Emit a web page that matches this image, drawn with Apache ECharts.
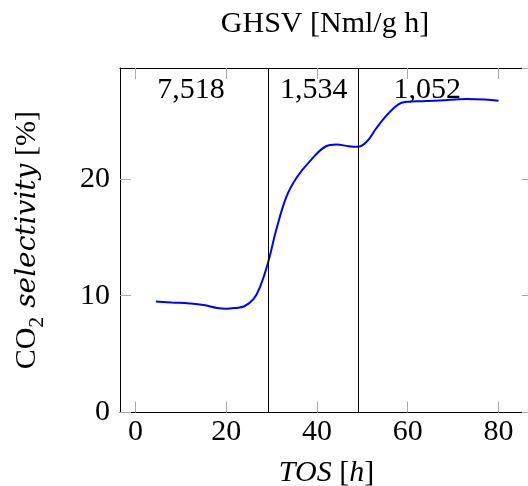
<!DOCTYPE html>
<html>
<head>
<meta charset="utf-8">
<style>html,body{margin:0;padding:0;background:#fff}#c{width:528px;height:486px}</style>
<script src="https://cdn.jsdelivr.net/npm/echarts@6/dist/echarts.min.js"></script>
</head>
<body>
<div id="c"></div>
<script>
// TOS [h]
const tos = [4.5, 8, 12, 15, 18, 20, 22, 24, 26, 27.5, 29.2, 31, 33.3, 35.5, 38.4, 42, 44.3, 47, 49, 51, 53, 55, 57, 58.5, 60, 63, 67, 73, 77, 80];
// CO2 selectivity [%]
const selectivity = [9.5, 9.42, 9.33, 9.2, 8.95, 8.88, 8.95, 9.1, 9.7, 10.8, 12.8, 15.6, 18.5, 20.1, 21.5, 22.8, 22.95, 22.8, 22.75, 23.2, 24.3, 25.3, 26.1, 26.5, 26.62, 26.66, 26.72, 26.85, 26.8, 26.7];
// GHSV change points
const ghsvBreaks = [29.2, 49.2];
// GHSV annotations
const ghsvText = ['7,518', '1,534', '1,052'];
const ghsvX = [12.25, 39.3, 64.3];
const ghsvY = [27.6, 27.6, 27.6];
// tick labels
const xTicks = [0, 20, 40, 60, 80];

const FONT = 'Liberation Serif';
const chart = echarts.init(document.getElementById('c'), null, {renderer: 'canvas'});

const tickStyle = {show: true, inside: true, length: 11, lineStyle: {color: '#aaaaaa', width: 1}};
const axisLineStyle = {show: true, onZero: false, lineStyle: {color: '#000', width: 1}};

chart.setOption({
  animation: false,
  grid: {left: 120, top: 68, right: -5, bottom: 73.5, containLabel: false, outerBoundsMode: 'none'},
  graphic: [{
    type: 'text', x: 325, y: 9,
    style: {text: 'GHSV [Nml/g h]', fontFamily: FONT, fontSize: 30, fill: '#000', align: 'center', verticalAlign: 'top'}
  }],
  xAxis: [{
    type: 'value', min: -3.4, max: 87.6, position: 'bottom',
    axisLine: axisLineStyle,
    axisTick: Object.assign({customValues: xTicks}, tickStyle),
    axisLabel: {customValues: xTicks, fontFamily: FONT, fontSize: 30, color: '#000', margin: 5},
    splitLine: {show: false},
    name: '{i|TOS}{r| [}{i|h}{r|]}', nameLocation: 'middle', nameGap: 46,
    nameTextStyle: {rich: {
      i: {fontFamily: FONT, fontStyle: 'italic', fontSize: 30, color: '#000'},
      r: {fontFamily: FONT, fontSize: 30, color: '#000'}
    }}
  }, {
    type: 'value', min: -3.4, max: 87.6, position: 'top',
    axisLine: axisLineStyle,
    axisTick: Object.assign({customValues: xTicks}, tickStyle),
    axisLabel: {show: false}, splitLine: {show: false}
  }],
  yAxis: [{
    type: 'value', min: 0, max: 29.5, interval: 10, position: 'left',
    axisLine: axisLineStyle,
    axisTick: Object.assign({}, tickStyle),
    axisLabel: {showMaxLabel: false, fontFamily: FONT, fontSize: 30, color: '#000', margin: 10},
    splitLine: {show: false},
    name: '{a|CO}{s|2}{b| selectivity}{a| [%]}', nameLocation: 'middle', nameGap: 72, nameRotate: 90,
    nameTextStyle: {rich: {
      a: {fontFamily: FONT, fontSize: 30, color: '#000', verticalAlign: 'bottom', padding: [0, 0, 6, 0]},
      s: {fontFamily: FONT, fontSize: 22, color: '#000', verticalAlign: 'bottom'},
      b: {fontFamily: 'DejaVu Serif', fontStyle: 'italic', fontSize: 28, color: '#000', verticalAlign: 'bottom', padding: [0, 0, 6, 0]}
    }}
  }, {
    type: 'value', min: 0, max: 29.5, interval: 10, position: 'right',
    axisLine: {show: false, onZero: false},
    axisTick: Object.assign({}, tickStyle),
    axisLabel: {show: false}, splitLine: {show: false}
  }],
  series: [{
    type: 'line',
    data: tos.map((x, i) => [x, selectivity[i]]),
    smooth: 0.4, showSymbol: false, symbol: 'none',
    lineStyle: {color: '#0000ff', width: 2},
    markLine: {
      silent: true, symbol: 'none', label: {show: false},
      lineStyle: {color: '#000', width: 1, type: 'solid'},
      data: ghsvBreaks.map(v => ({xAxis: v}))
    },
    z: 3
  }, {
    type: 'scatter', symbolSize: 0, silent: true,
    itemStyle: {color: '#000'},
    data: ghsvX.map((x, i) => [x, ghsvY[i], ghsvText[i]]),
    label: {show: true, position: 'inside', formatter: p => p.value[2], fontFamily: FONT, fontSize: 30, color: '#000', textBorderWidth: 0, textBorderColor: 'transparent', opacity: 1},
    z: 2
  }]
});
</script>
</body>
</html>
